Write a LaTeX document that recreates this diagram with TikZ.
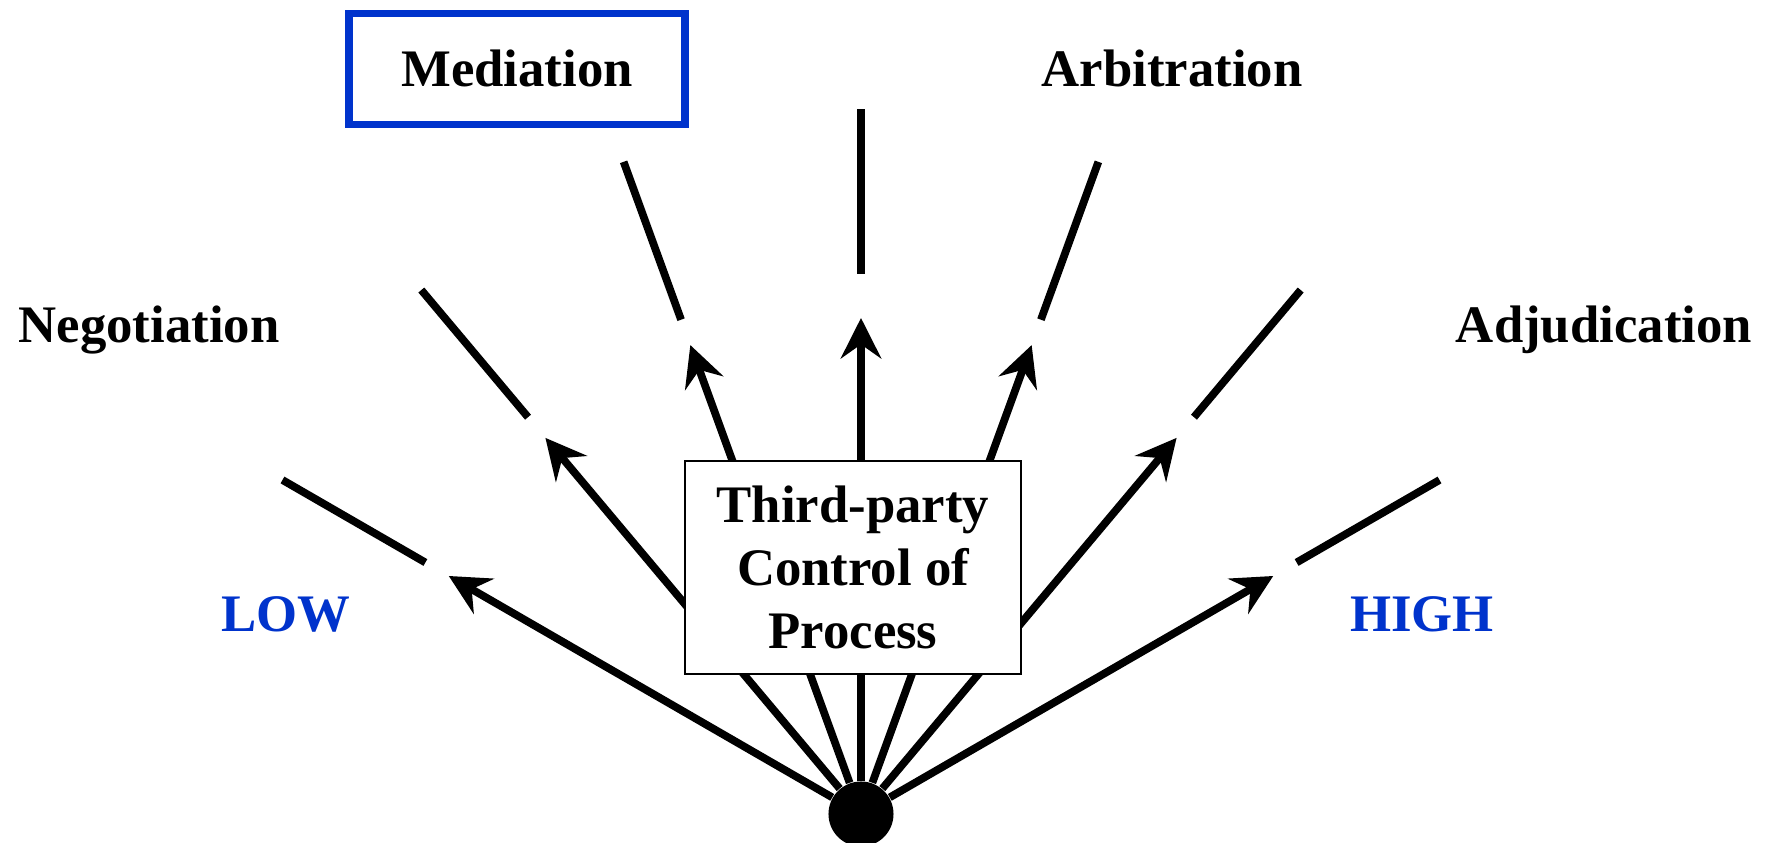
\documentclass[tikz,border=0pt]{standalone}
\usepackage{fontspec}
\setmainfont{Liberation Serif}
\usetikzlibrary{arrows.meta}
\definecolor{scaleblue}{RGB}{0,51,204}

\begin{document}
\begin{tikzpicture}[x=0.01cm, y=0.01cm,
    ray/.style={line width=2.2pt},
    lbl/.style={font=\fontsize{15}{18}\selectfont\bfseries, anchor=base, inner sep=0pt},
    ends/.style={lbl, text=scaleblue}]
    \useasboundingbox (-861,-29) rectangle (906,814);
    % origin of the fan
    \node[circle, fill, inner sep=0pt, minimum size=0.65cm] (dot) at (0,0) {};
    % rays: index / angle / arrow tip / dash start / dash end
    \foreach \n/\a/\t/\s/\e in {
        1/150/476/503/668,
        2/130/491/518/684,
        3/110/499/526/694,
        4/90/496/540/705,
        5/70/499/526/694,
        6/50/491/518/684,
        7/30/476/503/668
    } {
        \coordinate (tip\n) at (\a:\t);
        \coordinate (dashA\n) at (\a:\s);
        \coordinate (dashB\n) at (\a:\e);
        \draw[ray, -{Stealth[length=11.5pt, width=11.5pt, inset=4pt]}] (dot) -- (tip\n);
        \draw[ray] (dashA\n) -- (dashB\n);
    }
    % box in the middle, over the rays
    \node[draw, fill=white, line width=0.7pt, minimum width=3.36cm, minimum height=2.13cm,
        align=center, font=\fontsize{15}{18}\selectfont\bfseries] (ctrl) at (-8,246.5)
        {Third-party\\Control of\\Process};
    % labels
    \node[lbl, draw=scaleblue, line width=2.2pt, minimum width=3.36cm, minimum height=1.11cm] (med) at (-344,727) {Mediation};
    \node[lbl] (arb) at (311,727) {Arbitration};
    \node[lbl] (neg) at (-712,471) {Negotiation};
    \node[lbl] (adj) at (743,471) {Adjudication};
    \node[ends] (low) at (-575,182) {LOW};
    \node[ends] (high) at (561,182) {HIGH};
\end{tikzpicture}
\end{document}
